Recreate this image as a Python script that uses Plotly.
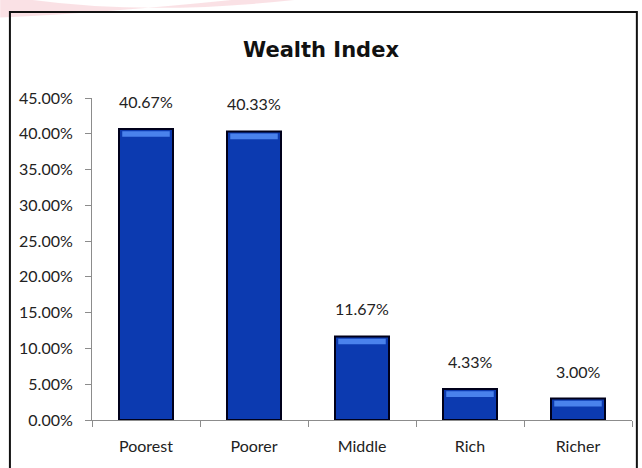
import plotly.graph_objects as go

categories = ["Poorest", "Poorer", "Middle", "Rich", "Richer"]
values = [40.67, 40.33, 11.67, 4.33, 3.00]
y_ticks = [0, 5, 10, 15, 20, 25, 30, 35, 40, 45]

FONT = "Lato, Open Sans, sans-serif"

fig = go.Figure()
fig.add_trace(go.Bar(
    x=categories, y=values,
    marker=dict(color="#0c3ab0", line=dict(color="#00001a", width=2)),
    width=0.5, hoverinfo="skip",
))
# bevel highlight strip at top of each bar
fig.add_trace(go.Bar(
    x=categories, y=[0.8] * len(values), base=[v - 1.1 for v in values],
    marker=dict(color="#4a82ec", line=dict(width=0)),
    width=0.44, hoverinfo="skip",
))

annotations = [
    dict(x=c, y=v, xref="x", yref="y", text=f"{v:.2f}%", showarrow=False,
         yanchor="bottom", yshift=16,
         font=dict(family=FONT, size=16, color="#222222"))
    for c, v in zip(categories, values)
]

fig.update_layout(
    width=642, height=468,
    margin=dict(l=92, r=10, t=98, b=48),
    paper_bgcolor="white", plot_bgcolor="white",
    showlegend=False, barmode="overlay",
    title=dict(text="<b>Wealth Index</b>", x=0.5, xanchor="center", y=0.893, yanchor="middle",
               font=dict(family="DejaVu Sans, sans-serif", size=21, color="#111111")),
    xaxis=dict(
        showline=True, linecolor="#8c8c8c", linewidth=1,
        ticks="outside", tickson="boundaries", ticklen=6, tickcolor="#8c8c8c",
        tickfont=dict(family=FONT, size=16, color="#222222"),
        ticklabelstandoff=12,
        showgrid=False,
    ),
    yaxis=dict(
        range=[0, 45], tickvals=y_ticks, ticktext=[f"{t:.2f}%" for t in y_ticks],
        showline=True, linecolor="#8c8c8c", linewidth=1,
        ticks="outside", ticklen=6, tickcolor="#8c8c8c",
        tickfont=dict(family=FONT, size=16, color="#222222"),
        ticklabelstandoff=9,
        showgrid=False, zeroline=False,
    ),
    annotations=annotations,
    shapes=[
        dict(type="path", xref="paper", yref="paper",
             path="M -0.17 1.32 Q 0.1 1.24 0.45 1.32 L 0.45 1.34 Q 0.1 1.27 -0.17 1.25 Z",
             line=dict(width=0), fillcolor="rgba(240,170,180,0.35)", layer="below"),
        dict(type="rect", xref="paper", yref="paper",
             x0=-0.152, x1=1.009, y0=-0.3, y1=1.267,
             line=dict(color="#111111", width=2), fillcolor="rgba(0,0,0,0)", layer="below"),
    ],
)

fig.write_html("out.html")
